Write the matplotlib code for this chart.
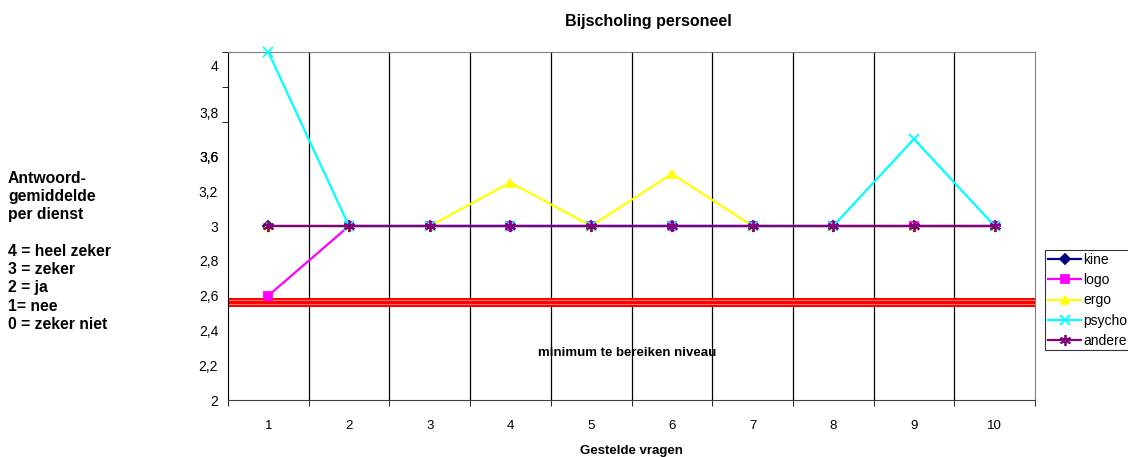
import matplotlib
matplotlib.use("Agg")
import matplotlib.pyplot as plt
import numpy as np

plt.rcParams['font.family'] = ['Liberation Sans', 'DejaVu Sans']

# gegevens
vragen = [1, 2, 3, 4, 5, 6, 7, 8, 9, 10]
kine = [3, 3, 3, 3, 3, 3, 3, 3, 3, 3]
logo = [2.6, 3, 3, 3, 3, 3, 3, 3, 3, 3]
ergo = [3, 3, 3, 3.25, 3, 3.3, 3, 3, 3, 3]
psycho = [4, 3, 3, 3, 3, 3, 3, 3, 3.5, 3]
andere = [3, 3, 3, 3, 3, 3, 3, 3, 3, 3]
minimum = 2.563

# y-labels zoals in het origineel (bovenste labels verschoven)
ylabel_pos = [2, 2.2, 2.4, 2.6, 2.8, 3, 3.2, 3.4, 3.4, 3.65, 3.92]
ylabel_txt = ["2", "2,2", "2,4", "2,6", "2,8", "3", "3,2", "3,4", "3,6", "3,8", "4"]

fig = plt.figure(figsize=(11.28, 4.57), dpi=100)
ax = fig.add_axes([0.2021, 0.1247, 0.7155, 0.7615])

# verticale rasterlijnen tussen de categorieën
for xb in np.arange(1.5, 10.5, 1):
    ax.axvline(xb, color="black", lw=0.9, zorder=1)

# minimumniveau
ax.axhline(minimum, color="red", lw=6.5, zorder=2)
for off in (-0.01, 0.01):
    ax.axhline(minimum + off, color="#ff9090", lw=0.6, zorder=2)

series = [
    ("kine", kine, "#000080", "D", 5),
    ("logo", logo, "#ff00ff", "s", 6),
    ("ergo", ergo, "#ffff00", "^", 6),
    ("psycho", psycho, "#00ffff", "x", 7),
    ("andere", andere, "#800080", (6, 2, 0), 8),
]
for naam, vals, kleur, mk, ms in series:
    ax.plot(vragen, vals, color=kleur, lw=1.6, marker=mk, ms=ms,
            markeredgecolor=kleur, markerfacecolor=kleur, mew=1.3,
            label=naam, zorder=3, clip_on=False)

ax.set_xlim(0.5, 10.5)
ax.set_ylim(2, 4)

ax.set_xticks(vragen)
ax.set_xticklabels([str(v) for v in vragen], fontsize=9.5)
ax.tick_params(axis="x", which="major", length=0, pad=14.5)
ax.set_xticks(np.arange(0.5, 11, 1), minor=True)
ax.tick_params(axis="x", which="minor", length=4, direction="out")

ax.set_yticks(ylabel_pos)
ax.set_yticklabels(ylabel_txt, fontsize=10)
ax.tick_params(axis="y", which="major", length=0, pad=7)
ax.set_yticks(np.arange(2, 4.01, 0.2), minor=True)
ax.tick_params(axis="y", which="minor", length=4, direction="out")

for s in ("top", "right"):
    ax.spines[s].set_color("#808080")
ax.spines["left"].set_color("black")
ax.spines["bottom"].set_color("#404040")

ax.set_xlabel("Gestelde vragen", fontsize=9.5, fontweight="bold", labelpad=9)
fig.text(0.575, 0.953, "Bijscholing personeel", ha="center", va="center",
         fontsize=11.5, fontweight="bold")

ax.text(5.45, 2.27, "minimum te bereiken niveau", ha="center", va="center",
        fontsize=9.5, fontweight="bold")

fig.text(0.007, 0.45, "Antwoord-\ngemiddelde\nper dienst\n\n4 = heel zeker\n3 = zeker\n2 = ja\n1= nee\n0 = zeker niet",
         ha="left", va="center", fontsize=11.3, fontweight="bold", linespacing=1.27)

leg = ax.legend(loc="upper left", bbox_to_anchor=(0.9265, 0.452), bbox_transform=fig.transFigure,
                fontsize=10, frameon=True, fancybox=False, edgecolor="black",
                handlelength=2.4, handletextpad=0.15, borderpad=0.2, labelspacing=0.44,
                borderaxespad=0)
leg.get_frame().set_linewidth(0.8)

fig.savefig("out.png", dpi=100)
